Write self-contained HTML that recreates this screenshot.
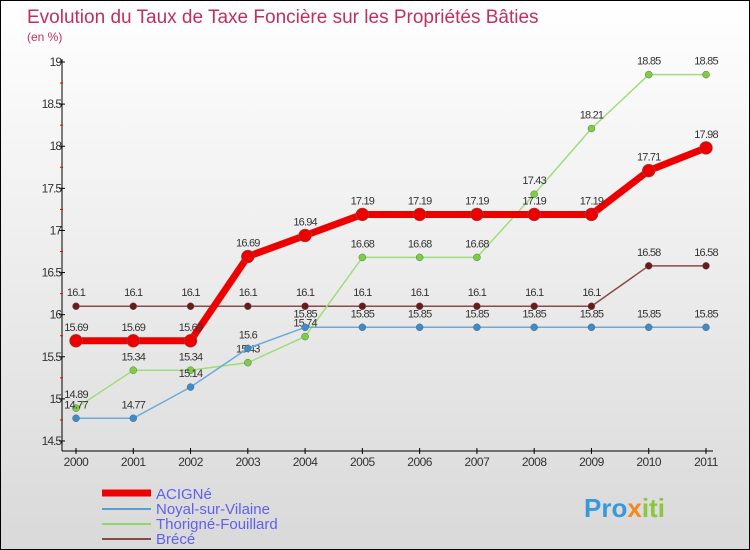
<!DOCTYPE html>
<html><head><meta charset="utf-8"><style>
body{margin:0}
#c{width:750px;height:550px;position:relative;background:linear-gradient(#fff,#d9d9d9);border:1px solid #000;box-sizing:border-box;overflow:hidden;font-family:"Liberation Sans",sans-serif}
text{font-family:"Liberation Sans",sans-serif}
</style></head><body>
<div id="c">
<svg id="s" width="750" height="550">
<text x="26" y="22" font-size="19" fill="#c0305f">Evolution du Taux de Taxe Foncière sur les Propriétés Bâties</text>
<text x="26" y="40" font-size="12" fill="#c0305f">(en %)</text>
<g id="axes"></g><g id="series"></g>
<g>
<line x1="101" y1="492" x2="150" y2="492" stroke="#e00" stroke-width="7"/>
<line x1="101" y1="508" x2="150" y2="508" stroke="#5a9fd0" stroke-width="2"/>
<line x1="101" y1="523" x2="150" y2="523" stroke="#8fd868" stroke-width="2"/>
<line x1="101" y1="538" x2="150" y2="538" stroke="#8a4a4a" stroke-width="2"/>
<text x="155" y="498" font-size="15" fill="#6060f0">ACIGNé</text>
<text x="155" y="513" font-size="15" fill="#6060f0">Noyal-sur-Vilaine</text>
<text x="155" y="528" font-size="15" fill="#6060f0">Thorigné-Fouillard</text>
<text x="155" y="543" font-size="15" fill="#6060f0">Brécé</text>
</g>
<text x="583" y="516" font-size="26" font-weight="bold" fill="#3a9ad9">Pro<tspan fill="#f08a20">x</tspan><tspan fill="#8cc63f">iti</tspan></text>
</svg>
</div>
<script>
const years=[2000,2001,2002,2003,2004,2005,2006,2007,2008,2009,2010,2011];
const yTicks=[14.5,15,15.5,16,16.5,17,17.5,18,18.5,19];
const yTickLabels=["14.5","15","15.5","16","16.5","17","17.5","18","18.5","19"];
const acigne=[15.69,15.69,15.69,16.69,16.94,17.19,17.19,17.19,17.19,17.19,17.71,17.98];
const noyal=[14.77,14.77,15.14,15.6,15.85,15.85,15.85,15.85,15.85,15.85,15.85,15.85];
const thorigne=[14.89,15.34,15.34,15.43,15.74,16.68,16.68,16.68,17.43,18.21,18.85,18.85];
const brece=[16.1,16.1,16.1,16.1,16.1,16.1,16.1,16.1,16.1,16.1,16.58,16.58];
const NS="http://www.w3.org/2000/svg";
const xs=i=>75+i*(705-75)/(years.length-1);
const ys=v=>440-(v-14.5)*(440-61)/4.5;
function mk(t,a,p){const e=document.createElementNS(NS,t);for(const k in a)e.setAttribute(k,a[k]);p.appendChild(e);return e;}
const ax=document.getElementById('axes'),se=document.getElementById('series');
let l=mk('line',{x1:61,y1:58,x2:61,y2:450,stroke:'#000','stroke-width':1},ax);


l=mk('line',{x1:61,y1:450,x2:712,y2:450,stroke:'#000','stroke-width':1},ax);


yTicks.forEach((v,i)=>{
 mk('line',{x1:58,y1:ys(v),x2:64,y2:ys(v),stroke:'#000'},ax);
 if(i<yTicks.length-1)mk('line',{x1:59,y1:ys(v+0.25),x2:62,y2:ys(v+0.25),stroke:'#e00'},ax);
 const t=mk('text',{x:60,y:ys(v)+4,'font-size':12,fill:'#333','text-anchor':'end','letter-spacing':'-1'},ax);
 t.textContent=yTickLabels[i];
 
 
});
years.forEach((y,i)=>{
 mk('line',{x1:xs(i),y1:447,x2:xs(i),y2:453,stroke:'#000'},ax);
 const t=mk('text',{x:xs(i),y:465,'font-size':12,fill:'#333','text-anchor':'middle','letter-spacing':'-0.5'},ax);
 t.textContent=y;
 
 
});
function series(vals,name,col,w,r,dot){
 const g=mk('g',{},se);
 
 
 const pl=mk('polyline',{points:vals.map((v,i)=>xs(i)+','+ys(v)).join(' '),fill:'none',stroke:col,'stroke-width':w,'stroke-linejoin':'round'},g);
 
 
 vals.forEach((v,i)=>{
  const c=mk('circle',{cx:xs(i),cy:ys(v),r:r,fill:dot,stroke:'#666','stroke-width':0.5},g);
  
  
  const t=mk('text',{x:xs(i),y:ys(v)-10,'font-size':11,fill:'#333','text-anchor':'middle','letter-spacing':'-0.8'},g);
  t.textContent=String(v);
  
  
 });
}
series(brece,'brece','#8a4a4a',1.5,3.5,'#6a1a1a');
series(thorigne,'thorigne','#9ede78',1.5,3.5,'#7cd040');
series(noyal,'noyal','#6aaadc',1.5,3.5,'#3a8ccc');
series(acigne,'acigne','#ee0000',7,6.5,'#ee0000');
</script>
</body></html>
